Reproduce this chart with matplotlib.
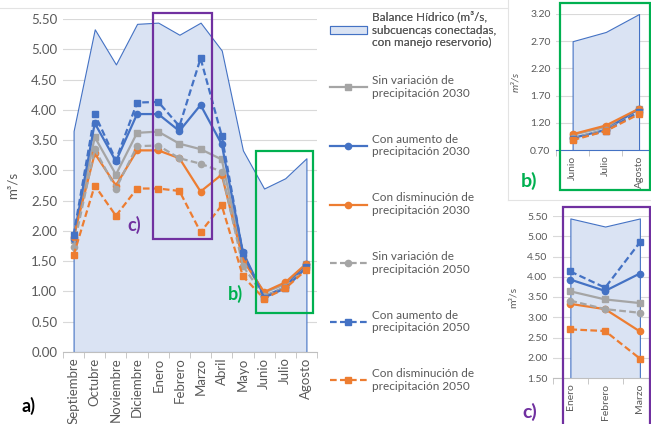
import numpy as np
import matplotlib.pyplot as plt
from matplotlib.patches import Rectangle
from matplotlib.lines import Line2D

plt.rcParams['font.family'] = ['Lato', 'DejaVu Sans']

meses = ['Septiembre', 'Octubre', 'Noviembre', 'Diciembre', 'Enero', 'Febrero',
         'Marzo', 'Abril', 'Mayo', 'Junio', 'Julio', 'Agosto']
balance = [3.65, 5.33, 4.75, 5.42, 5.44, 5.24, 5.44, 4.98, 3.33, 2.70, 2.87, 3.20]
sin_2030 = [1.85, 3.55, 2.93, 3.62, 3.64, 3.44, 3.35, 3.18, 1.55, 0.98, 1.12, 1.45]
aum_2030 = [1.87, 3.78, 3.15, 3.93, 3.93, 3.65, 4.08, 3.43, 1.65, 0.92, 1.07, 1.46]
dis_2030 = [1.90, 3.28, 2.75, 3.33, 3.33, 3.20, 2.65, 2.93, 1.52, 0.99, 1.15, 1.46]
sin_2050 = [1.73, 3.35, 2.70, 3.40, 3.41, 3.20, 3.11, 2.98, 1.42, 0.92, 1.07, 1.40]
aum_2050 = [1.93, 3.93, 3.17, 4.12, 4.13, 3.73, 4.85, 3.57, 1.63, 0.90, 1.05, 1.40]
dis_2050 = [1.60, 2.75, 2.25, 2.70, 2.70, 2.66, 1.98, 2.42, 1.25, 0.88, 1.05, 1.36]

azul, naranja, gris = '#4472C4', '#ED7D31', '#A5A5A5'
series = [
    (sin_2030, 'Sin variación de\nprecipitación 2030', gris, '-', 's'),
    (aum_2030, 'Con aumento de\nprecipitación 2030', azul, '-', 'o'),
    (dis_2030, 'Con disminución de\nprecipitación 2030', naranja, '-', 'o'),
    (sin_2050, 'Sin variación de\nprecipitación 2050', gris, '--', 'o'),
    (aum_2050, 'Con aumento de\nprecipitación 2050', azul, '--', 's'),
    (dis_2050, 'Con disminución de\nprecipitación 2050', naranja, '--', 's'),
]

W, H = 651, 424
fig = plt.figure(figsize=(W / 100, H / 100), dpi=100)


def caja(l, t, r, b):
    return [l / W, 1 - b / H, (r - l) / W, (b - t) / H]


def panel(pos, idx, ylim, yticks, fs, ylab_style='normal', spine_col='#bfbfbf'):
    ax = fig.add_axes(pos)
    x = np.arange(len(idx))
    bal = [balance[i] for i in idx]
    ax.fill_between(x, 0, bal, facecolor='#DAE3F3', edgecolor=azul, lw=0.8,
                    label='Balance Hídrico (m³/s,\nsubcuencas conectadas,\ncon manejo reservorio)')
    for vals, lab, c, ls, m in series:
        ax.plot(x, [vals[i] for i in idx], color=c, ls=ls, lw=1.6, marker=m,
                ms=4.5, label=lab, dashes=(3, 1.5) if ls == '--' else (None, None))
    ax.set_ylim(*ylim)
    ax.set_yticks(yticks)
    ax.set_yticklabels(['%.2f' % v for v in yticks], fontsize=fs, color='#595959')
    ax.set_xticks(x)
    ax.set_xticklabels([meses[i] for i in idx], rotation=90, fontsize=fs, color='#595959')
    ax.set_xticks(np.arange(-0.5, len(idx)), minor=True)
    ax.tick_params(axis='both', which='major', length=0, pad=4)
    ax.tick_params(axis='x', which='minor', length=4, color='#bfbfbf')
    ax.grid(axis='y', color='#d9d9d9', lw=0.8)
    ax.set_axisbelow(True)
    for s in ['top', 'left', 'right']:
        ax.spines[s].set_visible(False)
    ax.spines['bottom'].set_color(spine_col)
    ax.set_ylabel('m³/s', fontsize=fs, color='#595959', style=ylab_style)
    ax.patch.set_alpha(0)
    return ax


ax = panel(caja(63, 19, 317, 352), range(12), (0, 5.5), np.arange(0, 5.51, 0.5), 9.5)
ax.set_xlim(-0.5, 11.5)
ax.yaxis.set_label_coords(-0.175, 0.5)

axb = panel(caja(556, 14, 651, 150), [9, 10, 11], (0.7, 3.2), np.arange(0.7, 3.21, 0.5), 7.5,
            'italic', azul)
axb.set_xlim(-0.5, 2.36)
axb.yaxis.set_label_coords(-0.38, 0.5)

axc = panel(caja(553, 216, 651, 378), [4, 5, 6], (1.5, 5.5), np.arange(1.5, 5.51, 0.5), 7.5)
axc.set_xlim(-0.5, 2.32)
axc.yaxis.set_label_coords(-0.36, 0.5)

# leyenda
h, l = ax.get_legend_handles_labels()
leg1 = fig.legend(h[:1], l[:1], loc='upper left', bbox_to_anchor=(330 / W, 1 - 11 / H),
                  frameon=False, fontsize=8.5, borderpad=0, borderaxespad=0,
                  handlelength=3.1, handletextpad=0.5, labelcolor='#595959')
fig.add_artist(leg1)
fig.legend(h[1:], l[1:], loc='upper left', bbox_to_anchor=(330 / W, 1 - 75 / H),
           frameon=False, fontsize=8.5, borderpad=0, borderaxespad=0,
           handlelength=3.1, handletextpad=0.5, labelspacing=2.95, labelcolor='#595959')

# marcos y etiquetas
def rect(l, t, r, b, c):
    fig.add_artist(Rectangle((l / W, 1 - b / H), (r - l) / W, (b - t) / H, fill=False,
                             ec=c, lw=1.6, transform=fig.transFigure))

verde, morado = '#00B050', '#7030A0'
rect(153, 13, 212, 239, morado)
rect(256, 151, 313, 313, verde)
rect(560, 3, 650, 190, verde)
rect(563, 207, 650, 430, morado)

fig.add_artist(Line2D([0, 508 / W], [1 - 8 / H] * 2, color='#e3e3e3', lw=0.8))
fig.add_artist(Line2D([508 / W] * 2, [1, 1 - 200 / H], color='#e3e3e3', lw=0.8))
fig.add_artist(Line2D([508 / W, 1], [1 - 200 / H] * 2, color='#e3e3e3', lw=0.8))

fig.text(28 / W, 1 - 406 / H, 'a)', fontsize=13, weight='bold', ha='center', va='center')
fig.text(134 / W, 1 - 225 / H, 'c)', fontsize=13, weight='bold', color=morado, ha='center', va='center')
fig.text(235 / W, 1 - 294 / H, 'b)', fontsize=13, weight='bold', color=verde, ha='center', va='center')
fig.text(529 / W, 1 - 181 / H, 'b)', fontsize=14, weight='bold', color=verde, ha='center', va='center')
fig.text(530 / W, 1 - 412 / H, 'c)', fontsize=14, weight='bold', color=morado, ha='center', va='center')

fig.savefig('out.png', dpi=100)
